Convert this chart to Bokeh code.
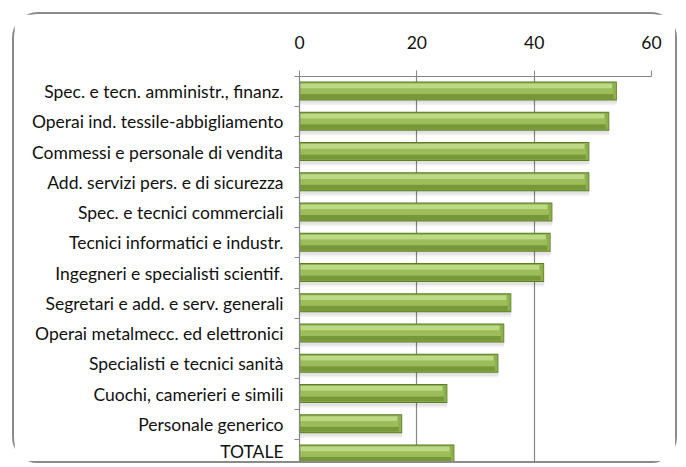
from bokeh.plotting import figure
from bokeh.models import ColumnDataSource, Range1d, FixedTicker
from bokeh.transform import dodge
from bokeh.embed import file_html
from bokeh.resources import INLINE

categories = [
    "Spec. e tecn. amministr., finanz.",
    "Operai ind. tessile-abbigliamento",
    "Commessi e personale di vendita",
    "Add. servizi pers. e di sicurezza",
    "Spec. e tecnici commerciali",
    "Tecnici informatici e industr.",
    "Ingegneri e specialisti scientif.",
    "Segretari e add. e serv. generali",
    "Operai metalmecc. ed elettronici",
    "Specialisti e tecnici sanità",
    "Cuochi, camerieri e simili",
    "Personale generico",
    "TOTALE",
]
values = [54.1, 52.8, 49.4, 49.4, 43.1, 42.8, 41.7, 36.1, 34.9, 33.9, 25.2, 17.5, 26.4]
x_ticks = [0, 20, 40, 60]

pos = list(range(len(categories)))
src = ColumnDataSource(dict(y=pos, v=values, cat=categories))

FONT = "Lato"
GRAY = "#868686"

p = figure(
    width=665, height=451,
    x_range=Range1d(0, 60),
    y_range=Range1d(12.36, -0.5),
    x_axis_location="above",
    output_backend="svg", toolbar_location=None,
    min_border_left=285, min_border_right=28, min_border_top=62, min_border_bottom=0,
)
p.margin = (12, 0, 0, 12)
p.styles = {"border": "2px solid #8a8a8a", "border-radius": "26px"}
p.outline_line_color = None
p.background_fill_color = "white"
p.border_fill_color = "white"

# grid
p.xgrid.ticker = FixedTicker(ticks=x_ticks)
p.xgrid.grid_line_color = GRAY
p.xgrid.grid_line_width = 1.2
p.ygrid.grid_line_color = None

# top axis
p.xaxis.ticker = FixedTicker(ticks=x_ticks)
p.xaxis.axis_line_color = GRAY
p.xaxis.axis_line_width = 1.2
p.xaxis.major_tick_line_color = GRAY
p.xaxis.major_tick_out = 6
p.xaxis.major_tick_in = 0
p.xaxis.minor_tick_line_color = None
p.xaxis.major_label_text_font = FONT
p.xaxis.major_label_text_font_size = "17.5px"
p.xaxis.major_label_text_color = "#111111"
p.xaxis.major_label_standoff = 22

# left axis
p.yaxis.ticker = FixedTicker(ticks=pos, minor_ticks=[i - 0.5 for i in pos] + [len(pos) - 0.5])
p.yaxis.major_label_overrides = {i: c for i, c in zip(pos, categories)}
p.yaxis.axis_line_color = GRAY
p.yaxis.axis_line_width = 1.2
p.yaxis.major_tick_line_color = None
p.yaxis.major_tick_out = 0
p.yaxis.major_tick_in = 0
p.yaxis.minor_tick_line_color = GRAY
p.yaxis.minor_tick_out = 5
p.yaxis.minor_tick_in = 0
p.yaxis.major_label_text_font = FONT
p.yaxis.major_label_text_font_size = "17.5px"
p.yaxis.major_label_text_color = "#111111"
p.yaxis.major_label_standoff = 11

# soft shadow
p.hbar(y=dodge("y", 0.06), left=0, right="v", height=0.78, source=src,
       fill_color="#000000", fill_alpha=0.05, line_color=None)
p.hbar(y=dodge("y", 0.04), left=0, right="v", height=0.70, source=src,
       fill_color="#000000", fill_alpha=0.06, line_color=None)

# main bar (outline dark)
p.hbar(y=dodge("y", -0.02), left=0, right="v", height=0.63, source=src,
       fill_color="#5e7d2b", line_color=None)
# inner body
p.hbar(y=dodge("y", -0.02), left=0.15, right=dodge("v", -0.12), height=0.56, source=src,
       fill_color="#8eaf4b", line_color=None)
# lower darker band
p.hbar(y=dodge("y", 0.16), left=0.15, right=dodge("v", -0.6), height=0.16, source=src,
       fill_color="#779838", line_color=None)
# middle band
p.hbar(y=dodge("y", -0.02), left=0.15, right=dodge("v", -0.6), height=0.2, source=src,
       fill_color="#9cbd59", line_color=None)
# top highlight band
p.hbar(y=dodge("y", -0.19), left=0.15, right=dodge("v", -0.8), height=0.16, source=src,
       fill_color="#bcd985", line_color=None)

open("out.html", "w").write(file_html(p, INLINE))
